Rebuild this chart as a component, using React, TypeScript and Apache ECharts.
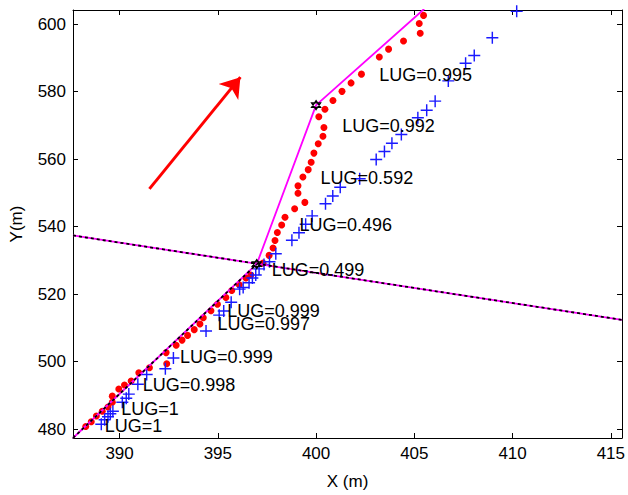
import React, { useEffect, useRef } from "react";
import * as echarts from "echarts";

const xTicks = [390, 395, 400, 405, 410, 415];
const yTicks = [480, 500, 520, 540, 560, 580, 600];
const xRange = [387.63, 415.57];
const yRange = [477.4, 604.2];

const redDots: number[][] = [
  [388.28, 480.8], [388.56, 482.2], [388.82, 483.9], [389.12, 485.3], [389.41, 486.6],
  [389.63, 488.0], [389.63, 489.8], [389.96, 491.9], [390.25, 493.1], [390.59, 494.3],
  [390.98, 496.7], [391.52, 498.2], [392.4, 499.4], [392.37, 502.7], [392.88, 504.9],
  [393.18, 506.4], [393.46, 507.8], [393.8, 509.5], [394.09, 511.2], [394.26, 513.0],
  [394.65, 515.1], [394.98, 517.0], [395.41, 519.0], [395.71, 521.1], [396.09, 522.8],
  [396.43, 524.8], [396.68, 525.7], [397.3, 529.2], [397.61, 531.5], [397.81, 533.7],
  [397.91, 535.9], [398.03, 538.3], [398.25, 540.5], [398.42, 542.8], [398.91, 545.3],
  [399.43, 547.2], [399.08, 549.9], [399.08, 552.1], [399.33, 554.7], [399.6, 556.9],
  [399.75, 559.1], [399.89, 561.8], [400.11, 564.6], [400.35, 566.8], [400.4, 569.4],
  [400.14, 572.6], [400.45, 574.8], [400.86, 577.4], [401.32, 580.1], [401.78, 582.6],
  [402.31, 585.2], [403.22, 590.3], [403.69, 592.6], [404.45, 595.0], [405.3, 597.3],
  [405.25, 600.2], [405.47, 602.6],
];

const blueCrosses: number[][] = [
  [389.07, 481.5], [389.24, 482.8], [389.41, 483.7], [389.53, 484.6], [389.66, 485.3],
  [390.14, 488.0], [390.34, 489.2], [390.47, 490.4], [390.93, 493.3], [391.38, 496.2],
  [392.33, 497.9], [392.74, 501.1], [394.4, 509.1], [395.07, 513.8], [395.3, 515.0],
  [395.68, 517.6], [396.11, 521.5], [396.29, 522.0], [396.59, 523.4], [396.76, 524.8],
  [396.93, 525.7], [397.1, 527.5], [397.35, 528.8], [397.63, 529.6], [397.95, 532.0],
  [398.77, 536.0], [399.13, 538.2], [399.47, 540.7], [399.8, 543.2], [400.48, 546.8],
  [400.85, 549.1], [401.23, 551.7], [402.22, 554.2], [403.06, 559.9], [403.48, 562.3],
  [403.86, 564.7], [404.34, 567.3], [405.18, 572.3], [405.63, 574.5], [406.06, 577.2],
  [406.73, 583.2], [407.61, 588.4], [408.05, 590.7], [408.97, 596.0], [410.21, 603.8],
];

const lowerPath: number[][] = [[387.63, 477.4], [396.98, 528.9]];
const magentaPath: number[][] = [[396.98, 528.9], [400.0, 576.0], [405.5, 604.5]];
const crossLine: number[][] = [[387.63, 537.4], [415.57, 512.4]];
const starPoints: number[][] = [[396.98, 528.9], [400.0, 576.0]];
const arrowCoords: number[][] = [[391.52, 551.2], [396.15, 584.3]];

const lugTexts = [
  "LUG=1", "LUG=1", "LUG=0.998", "LUG=0.999", "LUG=0.997", "LUG=0.999",
  "LUG=0.499", "LUG=0.496", "LUG=0.592", "LUG=0.992", "LUG=0.995",
];
const lugPositions: number[][] = [
  [389.24, 481.1], [390.09, 486.1], [391.18, 493.1], [393.08, 501.3], [394.98, 511.2],
  [395.48, 515.0], [397.74, 527.2], [399.16, 540.5], [400.23, 554.4], [401.33, 569.7],
  [403.22, 584.9],
];

const FONT = "'Liberation Sans', Arial, Helvetica, sans-serif";
const crossSymbol = "path://M4.4,0H5.6V4.4H10V5.6H5.6V10H4.4V5.6H0V4.4H4.4Z";
const starSymbol = "path://M5,0L9.33,7.5L0.67,7.5Z M5,10L0.67,2.5L9.33,2.5Z";

export default function App() {
  const ref = useRef<HTMLDivElement>(null);
  useEffect(() => {
    if (!ref.current) return;
    const chart = echarts.init(ref.current, undefined, { renderer: "svg" });
    const axisCommon = {
      type: "value" as const,
      axisLine: { show: true, onZero: false, lineStyle: { color: "#000", width: 1 } },
      splitLine: { show: false },
    };
    chart.setOption({
      animation: false,
      backgroundColor: "#fff",
      textStyle: { fontFamily: FONT },
      grid: { left: 73, right: 4, top: 10, bottom: 50, containLabel: false },
      xAxis: [
        {
          ...axisCommon,
          position: "bottom",
          min: xRange[0],
          max: xRange[1],
          name: "X (m)",
          nameLocation: "middle",
          nameGap: 35,
          nameTextStyle: { color: "#000", fontSize: 17, fontFamily: FONT },
          axisTick: { show: true, inside: true, length: 5, customValues: xTicks, lineStyle: { color: "#000" } },
          axisLabel: { show: true, customValues: xTicks, color: "#000", fontSize: 17, margin: 7, fontFamily: FONT },
        },
        {
          ...axisCommon,
          position: "top",
          min: xRange[0],
          max: xRange[1],
          axisTick: { show: true, inside: true, length: 5, customValues: xTicks, lineStyle: { color: "#000" } },
          axisLabel: { show: false },
        },
      ],
      yAxis: [
        {
          ...axisCommon,
          position: "left",
          min: yRange[0],
          max: yRange[1],
          name: "Y(m)",
          nameLocation: "middle",
          nameGap: 48,
          nameRotate: 90,
          nameTextStyle: { color: "#000", fontSize: 17, fontFamily: FONT },
          axisTick: { show: true, inside: true, length: 5, customValues: yTicks, lineStyle: { color: "#000" } },
          axisLabel: { show: true, customValues: yTicks, color: "#000", fontSize: 17, margin: 7, fontFamily: FONT },
        },
        {
          ...axisCommon,
          position: "right",
          min: yRange[0],
          max: yRange[1],
          axisTick: { show: true, inside: true, length: 5, customValues: yTicks, lineStyle: { color: "#000" } },
          axisLabel: { show: false },
        },
      ],
      series: [
        {
          type: "scatter",
          data: redDots,
          symbol: "circle",
          symbolSize: 7,
          itemStyle: { color: "#ff0000", opacity: 1 },
          z: 2,
        },
        {
          type: "scatter",
          data: blueCrosses,
          symbol: crossSymbol,
          symbolSize: 12,
          itemStyle: { color: "#1a1aff", opacity: 1 },
          z: 3,
        },
        {
          type: "line",
          data: lowerPath,
          symbol: "none",
          lineStyle: { color: "#ff00ff", width: 1.8 },
          z: 4,
        },
        {
          type: "line",
          data: lowerPath,
          symbol: "none",
          lineStyle: { color: "#000", width: 1.8, type: [3, 3] },
          z: 5,
        },
        {
          type: "line",
          data: magentaPath,
          symbol: "none",
          lineStyle: { color: "#ff00ff", width: 1.8 },
          z: 4,
        },
        {
          type: "line",
          data: crossLine,
          symbol: "none",
          lineStyle: { color: "#ff00ff", width: 1.8 },
          z: 4,
        },
        {
          type: "line",
          data: crossLine,
          symbol: "none",
          lineStyle: { color: "#000", width: 1.8, type: [3, 3] },
          z: 5,
        },
        {
          type: "scatter",
          data: starPoints,
          symbol: starSymbol,
          symbolSize: 9,
          itemStyle: { color: "rgba(0,0,0,0)", borderColor: "#000", borderWidth: 1.3, opacity: 1 },
          z: 6,
        },
        {
          type: "lines",
          coordinateSystem: "cartesian2d",
          data: [{ coords: arrowCoords }],
          symbol: ["none", "arrow"],
          symbolSize: 19,
          lineStyle: { color: "#ff0000", width: 3, opacity: 1 },
          itemStyle: { color: "#ff0000" },
          z: 6,
        },
        {
          type: "scatter",
          data: lugTexts.map((t, i) => ({ name: t, value: lugPositions[i] })),
          symbolSize: 0,
          itemStyle: { color: "rgba(0,0,0,0)", opacity: 1 },
          label: {
            show: true,
            position: "right",
            distance: 0,
            formatter: "{b}",
            color: "#000",
            opacity: 1,
            fontSize: 18,
            fontFamily: FONT,
          },
          z: 7,
        },
      ],
    });
    return () => chart.dispose();
  }, []);
  return (
    <div
      ref={ref}
      style={{ position: "fixed", left: 0, top: 0, width: 628, height: 495, background: "#fff" }}
    />
  );
}
